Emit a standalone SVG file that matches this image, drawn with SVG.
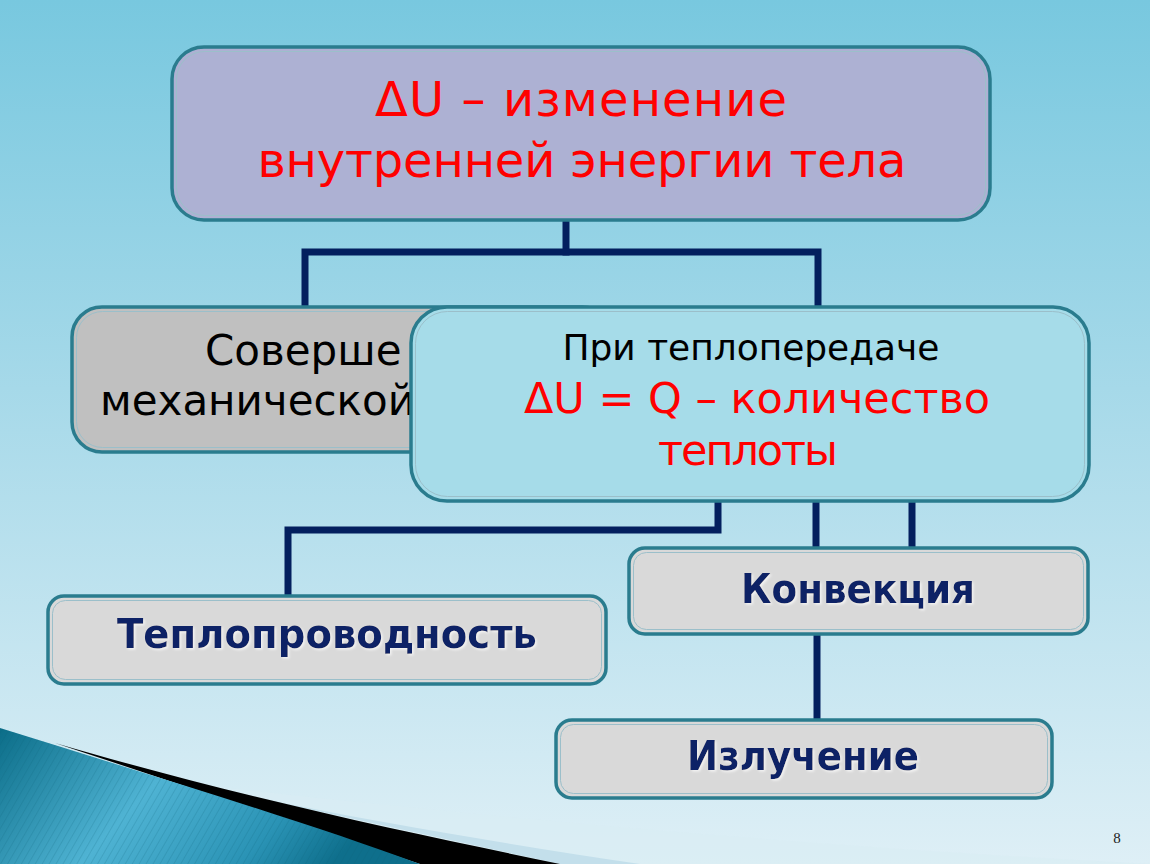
<svg xmlns="http://www.w3.org/2000/svg" width="1150" height="864" viewBox="0 0 1150 864">
<defs>
<linearGradient id="bg" x1="0" y1="0" x2="0" y2="1">
<stop offset="0" stop-color="#78c8df"/>
<stop offset="0.45" stop-color="#a6d9e9"/>
<stop offset="1" stop-color="#deeff6"/>
</linearGradient>
<linearGradient id="wedge" x1="0" y1="0" x2="1" y2="0.3">
<stop offset="0" stop-color="#0b6d88"/>
<stop offset="0.45" stop-color="#4fb3d3"/>
<stop offset="0.8" stop-color="#2a93b5"/>
<stop offset="1" stop-color="#0e6f8c"/>
</linearGradient>
<pattern id="stripes" width="6" height="6" patternUnits="userSpaceOnUse" patternTransform="rotate(30)">
<line x1="0" y1="0" x2="0" y2="6" stroke="#0a5d78" stroke-width="1" opacity="0.35"/>
</pattern>
<filter id="sh" x="-5%" y="-20%" width="110%" height="140%">
<feDropShadow dx="1.5" dy="1.5" stdDeviation="0.8" flood-color="#ffffff" flood-opacity="0.7"/>
</filter>
</defs>
<style>
.box{stroke:#2a7c8e;stroke-width:3.5}
.inner{fill:none;stroke:#9bbfca;stroke-width:1}
.conn{fill:none;stroke:#031f5e;stroke-width:7;stroke-linejoin:miter;stroke-linecap:square}
.red{font-family:"DejaVu Sans","Noto Sans",sans-serif;fill:#ff0000;text-anchor:middle}
.blk{font-family:"DejaVu Sans","Noto Sans",sans-serif;fill:#000000}
.nav{font-family:"DejaVu Sans","Noto Sans",sans-serif;fill:#0b2466;font-weight:bold;text-anchor:middle;font-size:40px}
</style>
<rect x="0" y="0" width="1150" height="864" fill="url(#bg)"/>
<path d="M0,760 C300,800 700,840 1150,864 L0,864 Z" fill="#d8ecf4" opacity="0.6"/>
<path d="M120,768 C300,810 480,840 640,864 L560,864 Z" fill="#c3dfeb"/>
<path d="M55,743 C250,800 420,835 560,864 L420,864 Z" fill="#000000"/>
<path d="M0,728 C150,775 300,820 420,864 L0,864 Z" fill="url(#wedge)"/>
<path d="M0,728 C150,775 300,820 420,864 L0,864 Z" fill="url(#stripes)"/>

<g id="connectors">
<path class="conn" d="M566,220 V252"/>
<path class="conn" d="M305,306 V252 H818 V306"/>
<path class="conn" d="M718,500 V530 H288 V595"/>
<path class="conn" d="M816,500 V548"/>
<path class="conn" d="M912,500 V548"/>
<path class="conn" d="M817,634 V720"/>
</g>

<g id="node-top">
<rect class="box" x="172" y="47" width="818" height="173" rx="32" fill="#adb1d3"/>
<rect class="inner" x="176.5" y="51.5" width="809" height="164" rx="28"/>
<text class="red" x="581" y="116" font-size="48" textLength="412" lengthAdjust="spacing">ΔU – изменение</text>
<text class="red" x="582" y="177" font-size="48" textLength="649" lengthAdjust="spacing">внутренней энергии тела</text>
</g>

<g id="node-work">
<rect class="box" x="72" y="307" width="540" height="145" rx="30" fill="#c0c0c0"/>
<rect class="inner" x="76.5" y="311.5" width="531" height="136" rx="26"/>
<text class="blk" x="205" y="365" font-size="42">Соверше</text>
<text class="blk" x="100" y="415" font-size="42">механической</text>
</g>

<g id="node-heat">
<rect class="box" x="411" y="307" width="678" height="194" rx="36" fill="#a6dce9"/>
<rect class="inner" x="415.5" y="311.5" width="669" height="185" rx="32"/>
<text class="blk" x="751" y="360" font-size="36" text-anchor="middle" textLength="377" lengthAdjust="spacing">При теплопередаче</text>
<text class="red" x="757" y="413" font-size="43" textLength="466" lengthAdjust="spacing">ΔU = Q – количество</text>
<text class="red" x="748" y="465" font-size="43" textLength="180" lengthAdjust="spacing">теплоты</text>
</g>

<g id="node-conduction">
<rect class="box" x="48" y="596" width="558" height="88" rx="16" fill="#d9d9d9"/>
<rect class="inner" x="52.5" y="600.5" width="549" height="79" rx="13"/>
<text class="nav" x="327" y="648" filter="url(#sh)" textLength="420" lengthAdjust="spacingAndGlyphs">Теплопроводность</text>
</g>

<g id="node-convection">
<rect class="box" x="629" y="548" width="459" height="86" rx="16" fill="#d9d9d9"/>
<rect class="inner" x="633.5" y="552.5" width="450" height="77" rx="13"/>
<text class="nav" x="858" y="603" filter="url(#sh)" textLength="234" lengthAdjust="spacingAndGlyphs">Конвекция</text>
</g>

<g id="node-radiation">
<rect class="box" x="556" y="720" width="496" height="78" rx="16" fill="#d9d9d9"/>
<rect class="inner" x="560.5" y="724.5" width="487" height="69" rx="13"/>
<text class="nav" x="803" y="770" filter="url(#sh)" textLength="232" lengthAdjust="spacingAndGlyphs">Излучение</text>
</g>

<text x="1117" y="843" font-family="Liberation Serif,serif" font-size="15" fill="#222" text-anchor="middle">8</text>
</svg>
